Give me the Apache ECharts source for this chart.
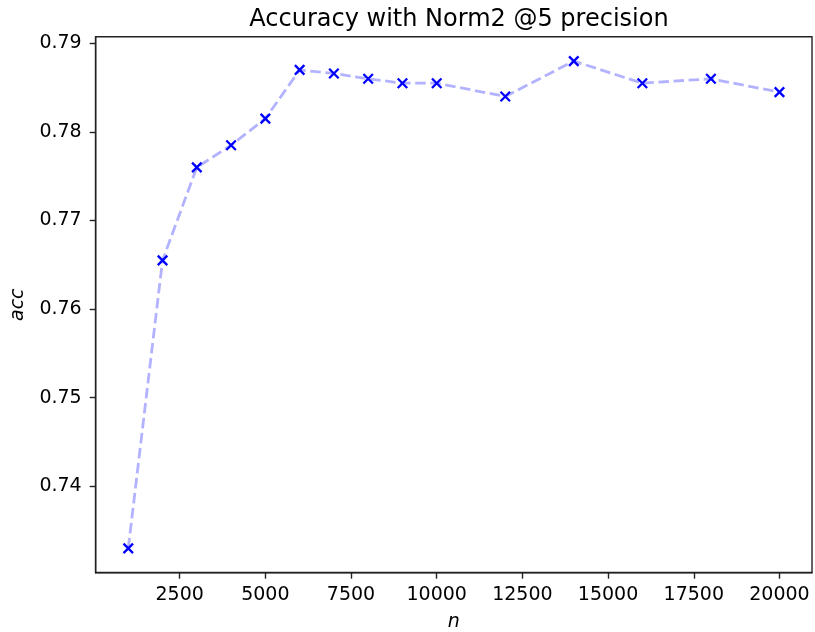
<!DOCTYPE html>
<html>
<head>
<meta charset="utf-8">
<script src="https://cdn.jsdelivr.net/npm/echarts@6/dist/echarts.min.js"></script>
<style>html,body{margin:0;padding:0;background:#fff}#c{width:815px;height:632px}</style>
</head>
<body>
<div id="c"></div>
<script>
const titleText = "Accuracy with Norm2 @5 precision";
const xName = "n";
const yName = "acc";
const nValues = [1000, 2000, 3000, 4000, 5000, 6000, 7000, 8000, 9000, 10000, 12000, 14000, 16000, 18000, 20000];
const accValues = [0.733, 0.7655, 0.776, 0.7785, 0.7815, 0.787, 0.7866, 0.786, 0.7855, 0.7855, 0.784, 0.788, 0.7855, 0.786, 0.7845];
const xTicks = [2500, 5000, 7500, 10000, 12500, 15000, 17500, 20000];
const yTicks = [0.74, 0.75, 0.76, 0.77, 0.78, 0.79];

const font = "DejaVu Sans";
const chart = echarts.init(document.getElementById('c'), null, {renderer: 'canvas'});
const xMin = 1000 - 950, xMax = 20000 + 950;
const yMin = 0.733 - 0.00275, yMax = 0.788 + 0.00275;
chart.setOption({
  animation: false,
  backgroundColor: '#fff',
  title: {
    text: titleText, left: 454, top: 3, textAlign: 'center',
    textStyle: {fontFamily: font, fontWeight: 'normal', fontSize: 24, color: '#000'}
  },
  grid: {left: 95.7, right: 3, top: 36.7, bottom: 59.3, outerBoundsMode: 'none', containLabel: false, show: true, borderColor: '#222', borderWidth: 1.4, backgroundColor: 'transparent'},
  xAxis: {
    type: 'value', min: xMin, max: xMax,
    name: xName, nameLocation: 'middle', nameGap: 40,
    nameTextStyle: {fontFamily: font, fontStyle: 'italic', fontSize: 19, color: '#000'},
    splitLine: {show: false},
    axisLine: {show: true, onZero: false, lineStyle: {color: '#222', width: 1.4}},
    axisTick: {show: true, length: 6, lineStyle: {color: '#222', width: 1.4}, customValues: xTicks},
    axisLabel: {fontFamily: font, fontSize: 19, color: '#000', margin: 13, customValues: xTicks, formatter: v => String(v)}
  },
  yAxis: {
    type: 'value', min: yMin, max: yMax,
    name: yName, nameLocation: 'middle', nameGap: 68, nameRotate: 90,
    nameTextStyle: {fontFamily: font, fontStyle: 'italic', fontSize: 19, color: '#000'},
    splitLine: {show: false},
    axisLine: {show: true, onZero: false, lineStyle: {color: '#222', width: 1.4}},
    axisTick: {show: true, length: 6, lineStyle: {color: '#222', width: 1.4}, customValues: yTicks},
    axisLabel: {fontFamily: font, fontSize: 19, color: '#000', margin: 14, customValues: yTicks, formatter: v => v.toFixed(2)}
  },
  series: [{
    type: 'line',
    data: nValues.map((n, i) => [n, accValues[i]]),
    lineStyle: {color: 'rgba(0,0,255,0.3)', width: 2.8, type: [10.5, 4.6]},
    symbol: 'path://M0,0L10,10M10,0L0,10',
    symbolSize: 9.5,
    showAllSymbol: true,
    itemStyle: {color: '#0000ff', borderColor: '#0000ff', borderWidth: 2.3},
    emphasis: {disabled: true}
  }]
});
</script>
</body>
</html>
